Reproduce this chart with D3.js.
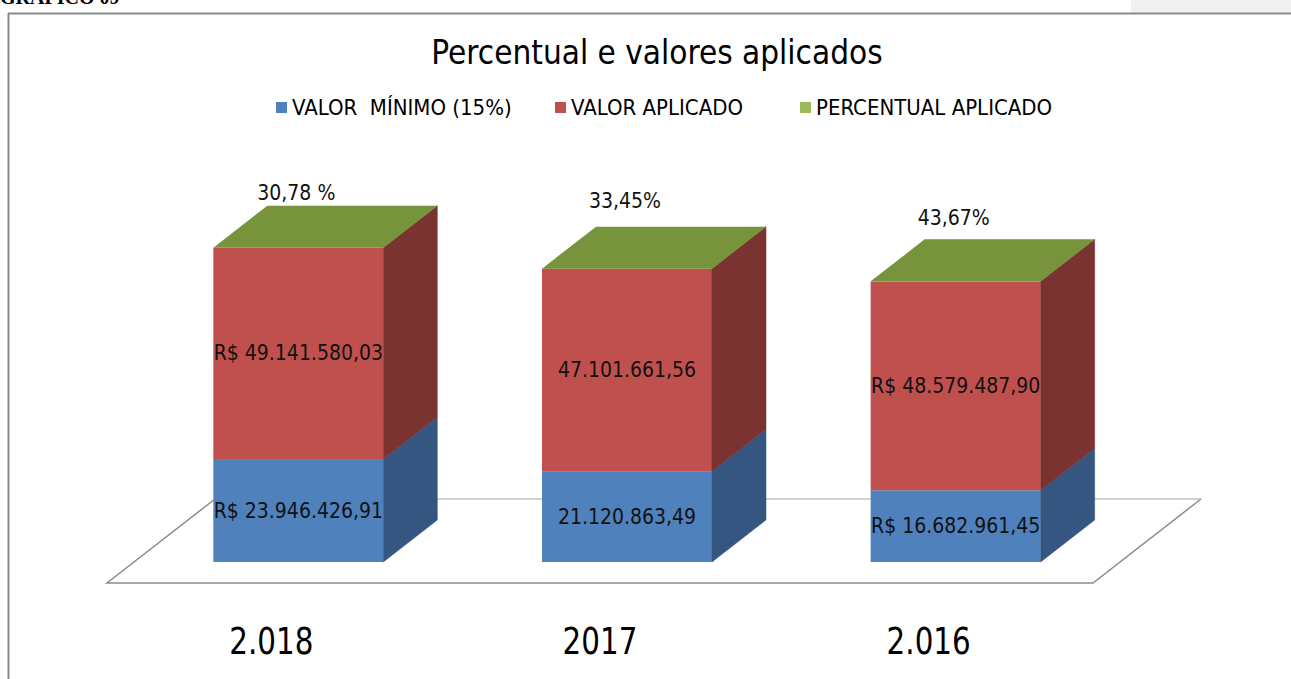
<!DOCTYPE html>
<html><head><meta charset="utf-8">
<script src="https://cdn.jsdelivr.net/npm/d3@7"></script>
<style>html,body{margin:0;padding:0;background:#fff;overflow:hidden}svg{display:block}</style>
</head><body>
<svg id="c" width="1291" height="679"></svg>
<script>
const title = "Percentual e valores aplicados";
const categories = ["2.018", "2017", "2.016"];
const seriesNames = ["VALOR  MÍNIMO (15%)", "VALOR APLICADO", "PERCENTUAL APLICADO"];
const valorMinimo = [23946426.91, 21120863.49, 16682961.45];
const valorAplicado = [49141580.03, 47101661.56, 48579487.90];
const percentualAplicado = [30.78, 33.45, 43.67];
const labelsMinimo = ["R$ 23.946.426,91", "21.120.863,49", "R$ 16.682.961,45"];
const labelsAplicado = ["R$ 49.141.580,03", "47.101.661,56", "R$ 48.579.487,90"];
const labelsPercentual = ["30,78 %", "33,45%", "43,67%"];

const frontColors = ["#4F81BD", "#C0504D", "#9BBB59"];
const sideColors = ["#345681", "#7B3331", "#5F7A30"];
const topColors = ["#4F81BD", "#C0504D", "#77933C"];
const FONT = "'Liberation Sans Narrow','DejaVu Sans Condensed','Liberation Sans',Arial,sans-serif";

const svg = d3.select("#c");

// page decoration
svg.append("rect").attr("x",1131).attr("y",0).attr("width",160).attr("height",13).attr("fill","#f0f0f0");
svg.append("text").attr("x",0).attr("y",4).attr("font-family","'Liberation Serif',serif").attr("font-weight","bold")
  .attr("font-size",20).attr("fill","#000").text("GRÁFICO 09");
svg.append("line").attr("x1",8).attr("x2",1291).attr("y1",13.5).attr("y2",13.5).attr("stroke","#8a8a8a").attr("stroke-width",2);
svg.append("line").attr("x1",8.5).attr("x2",8.5).attr("y1",13).attr("y2",679).attr("stroke","#8a8a8a").attr("stroke-width",2);

// geometry
const floorFrontY = 583;
const depth = {dx:108, dy:-84};
const x = d3.scaleBand().domain(categories).range([107, 1093]).paddingInner(0).paddingOuter(0);
const barW = 170;
const y = d3.scaleLinear().domain([0, 80e6]).range([0, 344]);

// floor
const fx0 = x.range()[0], fx1 = x.range()[1];
svg.append("path")
  .attr("d", `M${fx0},${floorFrontY} L${fx1},${floorFrontY} L${fx1+depth.dx},${floorFrontY+depth.dy} L${fx0+depth.dx},${floorFrontY+depth.dy} Z`)
  .attr("fill","#fff").attr("stroke","none");
svg.append("line").attr("x1",fx0+depth.dx).attr("x2",fx1+depth.dx).attr("y1",floorFrontY+depth.dy).attr("y2",floorFrontY+depth.dy)
  .attr("stroke","#a6a6a6").attr("stroke-width",1.2);
svg.append("path")
  .attr("d", `M${fx0+depth.dx},${floorFrontY+depth.dy} L${fx0},${floorFrontY} L${fx1},${floorFrontY} L${fx1+depth.dx},${floorFrontY+depth.dy}`)
  .attr("fill","none").attr("stroke","#8c8c8c").attr("stroke-width",1.5);

// stacked data
const rows = categories.map((c,i)=>({cat:c, vals:[valorMinimo[i], valorAplicado[i], percentualAplicado[i]]}));
const off = {dx: depth.dx*0.25, dy: depth.dy*0.25};
const bd = {dx: depth.dx*0.5, dy: depth.dy*0.5};
const pctGap = [13, 26, 21];

const g = svg.append("g");
rows.forEach((r,i)=>{
  const x0 = x(r.cat) + (x.bandwidth()-barW)/2 + off.dx;
  const base = floorFrontY + off.dy;
  let cum = 0;
  const segs = r.vals.map((v,k)=>{const s={k, y0: base - y(cum), y1: base - y(cum+v)}; cum+=v; return s;});
  segs.forEach(s=>{
    g.append("rect").attr("x",x0).attr("y",s.y1).attr("width",barW).attr("height",Math.max(0,s.y0-s.y1)).attr("fill",frontColors[s.k]);
    g.append("path").attr("d",`M${x0+barW},${s.y0} L${x0+barW+bd.dx},${s.y0+bd.dy} L${x0+barW+bd.dx},${s.y1+bd.dy} L${x0+barW},${s.y1} Z`)
      .attr("fill",sideColors[s.k]).attr("stroke",sideColors[s.k]).attr("stroke-width",0.5);
  });
  const top = segs[segs.length-1];
  g.append("path").attr("d",`M${x0},${top.y1} L${x0+barW},${top.y1} L${x0+barW+bd.dx},${top.y1+bd.dy} L${x0+bd.dx},${top.y1+bd.dy} Z`)
    .attr("fill",topColors[2]);

  const cx = x0 + barW/2;
  const lab = (txt, xx, yy) => g.append("text").attr("x",xx).attr("y",yy).attr("text-anchor","middle").attr("dominant-baseline","central")
     .attr("font-family",FONT).attr("font-size",21).attr("fill","#111").text(txt);
  lab(labelsMinimo[i], cx, (segs[0].y0+segs[0].y1)/2);
  lab(labelsAplicado[i], cx, (segs[1].y0+segs[1].y1)/2);
  lab(labelsPercentual[i], cx - 2, top.y1 + bd.dy - pctGap[i]);
});

// category labels (narrowed to match the condensed source face)
categories.forEach(c=>{
  const cx = x(c)+x.bandwidth()/2;
  svg.append("text").attr("transform",`translate(${cx},641) scale(0.86,1)`).attr("text-anchor","middle").attr("dominant-baseline","central")
    .attr("font-family",FONT).attr("font-size",38).attr("fill","#000").text(c);
});

// title
svg.append("text").attr("x",657).attr("y",52).attr("text-anchor","middle").attr("dominant-baseline","central")
  .attr("font-family",FONT).attr("font-size",33).attr("fill","#000").text(title);

// legend
const legX = [276, 555, 800];
seriesNames.forEach((n,k)=>{
  svg.append("rect").attr("x",legX[k]).attr("y",102).attr("width",11).attr("height",11).attr("fill",frontColors[k]);
  svg.append("text").attr("x",legX[k]+16).attr("y",107).attr("dominant-baseline","central")
    .attr("font-family",FONT).attr("font-size",22).attr("fill","#000").attr("xml:space","preserve").style("white-space","pre").text(n);
});
</script>
</body></html>
